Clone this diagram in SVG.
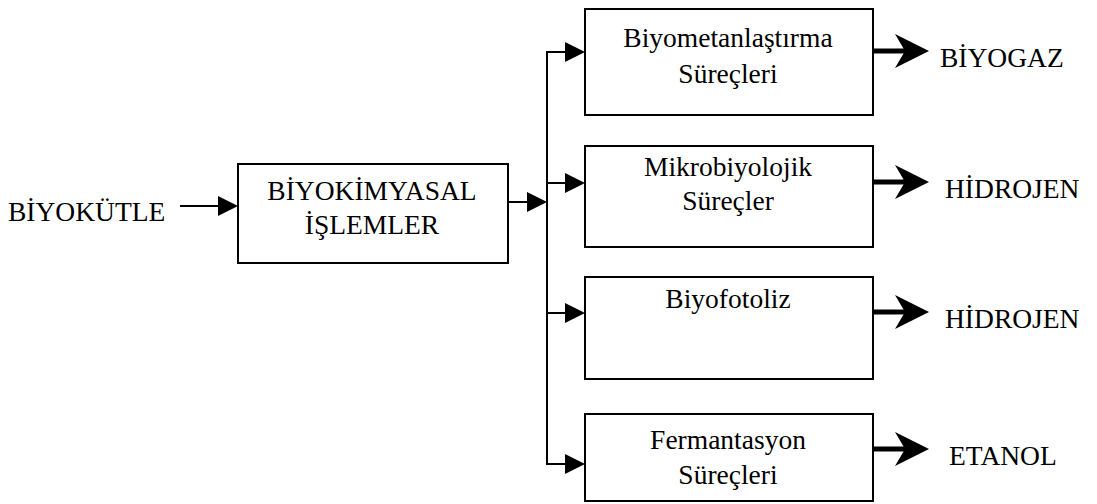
<svg xmlns="http://www.w3.org/2000/svg" width="1097" height="504" viewBox="0 0 1097 504">
<style>
.box{fill:#fff;stroke:#000;stroke-width:2}
.t{font-family:"Liberation Serif","Times New Roman",serif;font-size:27.5px;fill:#000}
.c{text-anchor:middle}
.ln{stroke:#000;stroke-width:2;fill:none}
.th{stroke:#000;stroke-width:5;fill:none}
</style>
<defs>
<marker id="tri" markerUnits="userSpaceOnUse" markerWidth="20" markerHeight="20" refX="0" refY="10" orient="auto" viewBox="0 0 20 20">
<path d="M0,0 L20,10 L0,20 Z" fill="#000"/>
</marker>
<marker id="big" markerUnits="userSpaceOnUse" markerWidth="34" markerHeight="34" refX="10" refY="17" orient="auto" viewBox="0 0 34 34">
<path d="M0,0 L34,17 L0,34 L10,17 Z" fill="#000"/>
</marker>
</defs>
<rect width="1097" height="504" fill="#fff"/>
<g id="connectors">
<line class="ln" x1="180" y1="206" x2="218" y2="206" marker-end="url(#tri)"/>
<line class="ln" x1="508" y1="202" x2="527" y2="202" marker-end="url(#tri)"/>
<line class="ln" x1="547" y1="51" x2="547" y2="465"/>
<line class="ln" x1="546" y1="52" x2="565" y2="52" marker-end="url(#tri)"/>
<line class="ln" x1="546" y1="183" x2="565" y2="183" marker-end="url(#tri)"/>
<line class="ln" x1="546" y1="313" x2="565" y2="313" marker-end="url(#tri)"/>
<line class="ln" x1="546" y1="464" x2="565" y2="464" marker-end="url(#tri)"/>
<line class="th" x1="873" y1="51" x2="905" y2="51" marker-end="url(#big)"/>
<line class="th" x1="873" y1="182" x2="905" y2="182" marker-end="url(#big)"/>
<line class="th" x1="873" y1="312" x2="905" y2="312" marker-end="url(#big)"/>
<line class="th" x1="873" y1="449" x2="905" y2="449" marker-end="url(#big)"/>
</g>
<g id="biyokutle"><text class="t" x="8" y="221">BİYOKÜTLE</text></g>
<g id="biyokimyasal">
<rect class="box" x="238" y="164" width="270" height="99"/>
<text class="t c" x="372" y="200">BİYOKİMYASAL</text>
<text class="t c" x="372" y="234">İŞLEMLER</text>
</g>
<g id="biyometan">
<rect class="box" x="585" y="9" width="288" height="106"/>
<text class="t c" x="728" y="47">Biyometanlaştırma</text>
<text class="t c" x="728" y="83">Süreçleri</text>
</g>
<g id="mikro">
<rect class="box" x="585" y="146" width="288" height="101"/>
<text class="t c" x="728" y="176">Mikrobiyolojik</text>
<text class="t c" x="728" y="210">Süreçler</text>
</g>
<g id="biyofoto">
<rect class="box" x="585" y="277" width="288" height="102"/>
<text class="t c" x="728" y="308">Biyofotoliz</text>
</g>
<g id="ferm">
<rect class="box" x="585" y="414" width="288" height="87"/>
<text class="t c" x="728" y="449">Fermantasyon</text>
<text class="t c" x="728" y="484">Süreçleri</text>
</g>
<g id="biyogaz"><text class="t" x="940" y="67">BİYOGAZ</text></g>
<g id="hidrojen1"><text class="t" x="945" y="198">HİDROJEN</text></g>
<g id="hidrojen2"><text class="t" x="945" y="328">HİDROJEN</text></g>
<g id="etanol"><text class="t" x="949" y="465">ETANOL</text></g>
</svg>
